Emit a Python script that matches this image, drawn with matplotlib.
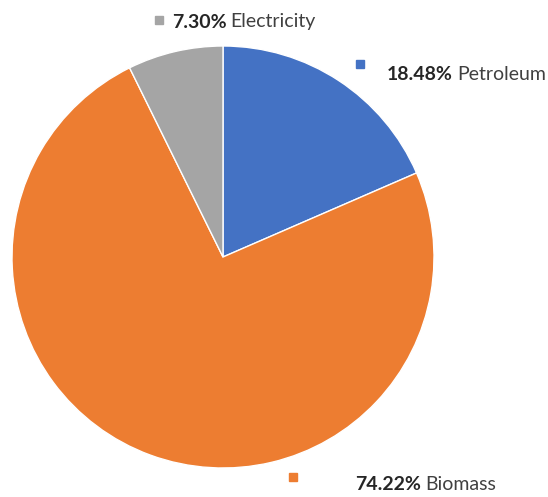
import matplotlib
matplotlib.use("Agg")
import matplotlib.pyplot as plt

# data
labels = ["Petroleum", "Biomass", "Electricity"]
shares = [18.48, 74.22, 7.30]
colors = ["#4472C4", "#ED7D31", "#A5A5A5"]

# label layout (pixel coords, y from top): marker pos, text start
marker_xy = [(360, 64), (293, 477), (159, 20)]
text_xy = [(387, 75), (355, 485), (172, 22)]

W, H = 548, 497
fig = plt.figure(figsize=(W / 100, H / 100), dpi=100)
ax = fig.add_axes([0, 0, 1, 1])

ax.pie(shares, colors=colors, startangle=90, counterclock=False,
       center=(223, H - 257), radius=211, frame=True,
       wedgeprops=dict(edgecolor="white", linewidth=1.0))
ax.set_xlim(0, W)
ax.set_ylim(0, H)
ax.axis("off")

font = "Lato"
fig.canvas.draw()
renderer = fig.canvas.get_renderer()
for name, val, col, (mx, my), (tx, ty) in zip(labels, shares, colors, marker_xy, text_xy):
    ax.plot(mx, H - my, "s", color=col, markersize=5.5)
    t1 = ax.text(tx, H - ty, f"{val:.2f}%", fontsize=14, fontweight="bold",
                 family=font, color="#262626", ha="left", va="center")
    bb = t1.get_window_extent(renderer)
    ax.text(tx + bb.width + 4, H - ty, name, fontsize=14, family=font,
            color="#404040", ha="left", va="center")

fig.savefig("out.png", dpi=100)
